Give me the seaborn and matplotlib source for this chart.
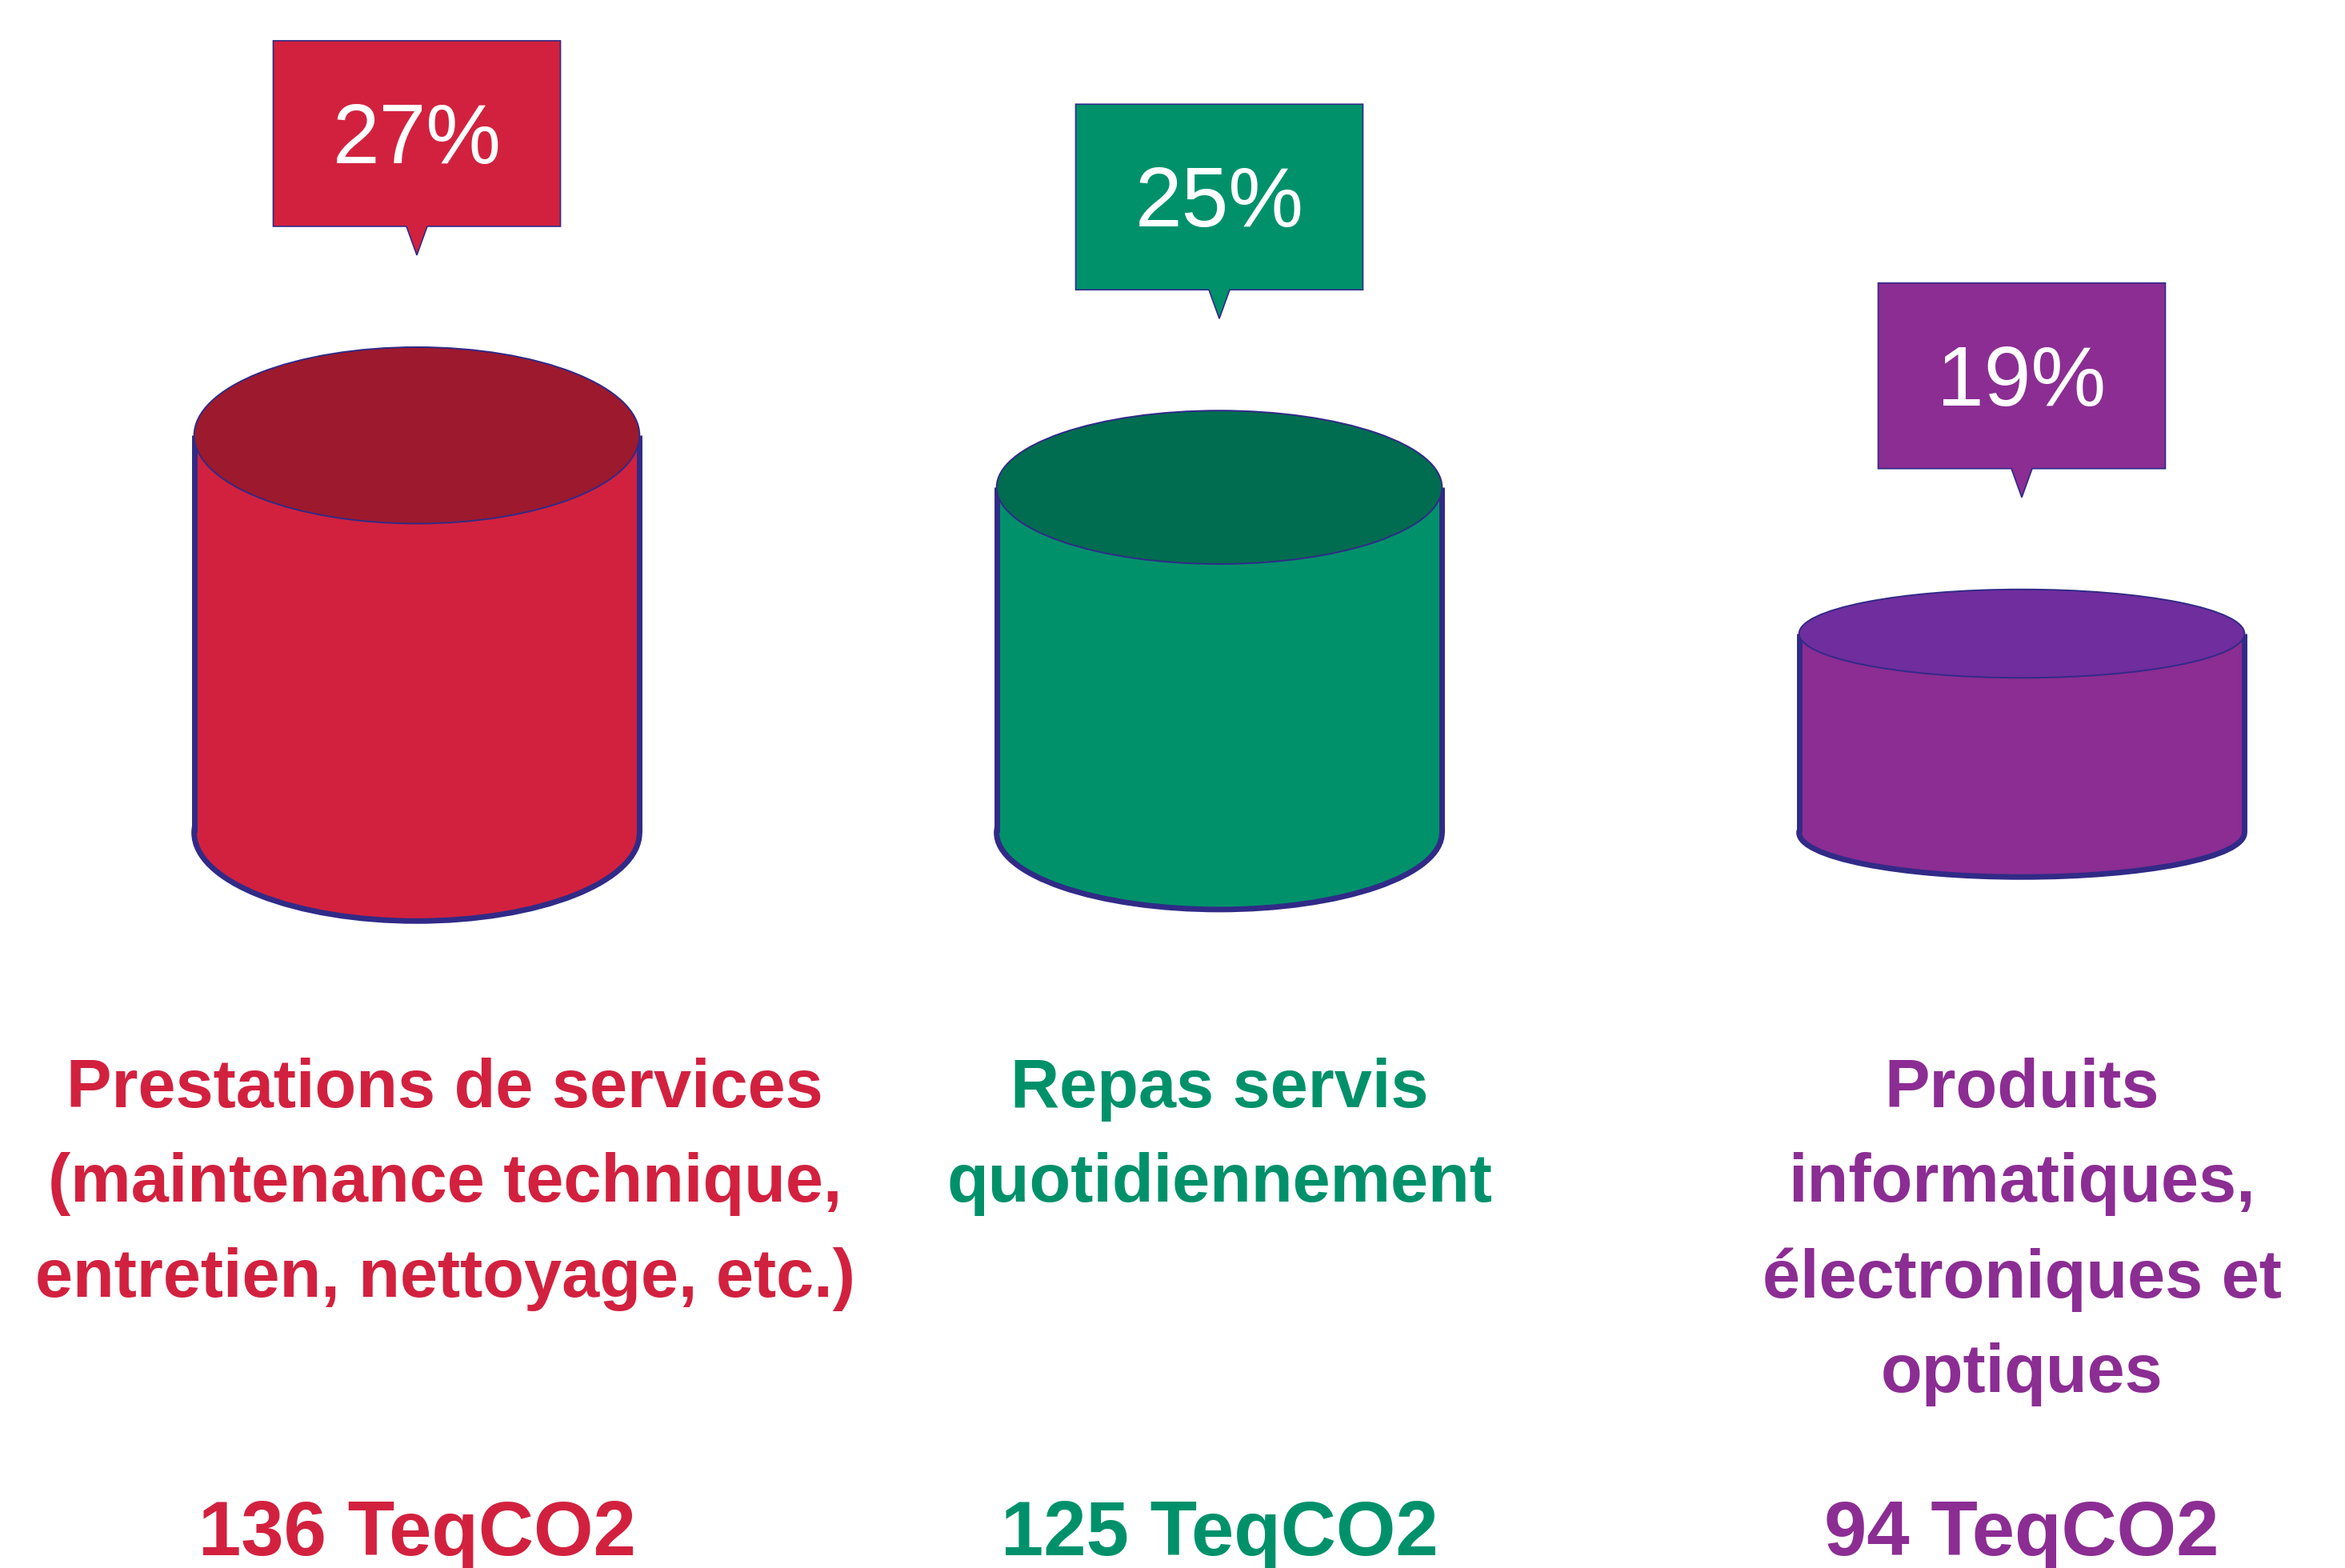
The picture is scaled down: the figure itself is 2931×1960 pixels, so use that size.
import pandas as pd
import seaborn as sns
import matplotlib.pyplot as plt
from matplotlib.patches import Ellipse, Polygon
from matplotlib import transforms

# data
categories = ["Prestations de services\n(maintenance technique,\nentretien, nettoyage, etc.)",
              "Repas servis\nquotidiennement",
              "Produits\ninformatiques,\nélectroniques et\noptiques"]
teq_values = [136, 125, 94]
percents = [27, 25, 19]

side_colors = ["#D2213E", "#00916B", "#8B2D93"]
top_colors = ["#9D192E", "#006C50", "#6F2D9D"]
edge_color = "#312A87"

sns.set_style("white")
plt.rcParams["font.family"] = ["Liberation Sans", "DejaVu Sans"]

W, H, DPI = 2931, 1960, 100
fig = plt.figure(figsize=(W / DPI, H / DPI), dpi=DPI)

# cylinders sit on a common baseline, the axes stop there
base_px = 1041
ax = fig.add_axes([0, 1 - base_px / H, 1, base_px / H])

df = pd.DataFrame({"cat": categories, "teq": teq_values})
sns.barplot(data=df, x="cat", y="teq", hue="cat", palette=side_colors,
            width=0.555, saturation=1, linewidth=0, legend=False, ax=ax)

y_lo = 51.8          # value at the baseline
px_per_unit = 5.9    # vertical pixels per TeqCO2
x_px = 1003          # pixels between two columns
ax.set_ylim(y_lo, y_lo + base_px / px_per_unit)
ax.set_xlim(-521 / x_px, (W - 521) / x_px)
ax.axis("off")

bars = list(ax.patches)
for i, bar in enumerate(bars):
    x0 = bar.get_x()
    w = bar.get_width()
    xc = x0 + w / 2
    top = bar.get_height()
    ry = 0.222 * (top - y_lo)
    bar.set_zorder(2)

    # bottom of the cylinder
    ax.add_patch(Ellipse((xc, y_lo), w, 2 * ry, fc=side_colors[i], ec=edge_color,
                         lw=5, zorder=1, clip_on=False))
    # sides
    for xs in (x0, x0 + w):
        ax.plot([xs, xs], [y_lo, top], color=edge_color, lw=5, zorder=3,
                solid_capstyle="butt")
    # lid
    ax.add_patch(Ellipse((xc, top), w, 2 * ry, fc=top_colors[i], ec=edge_color,
                         lw=1.4, zorder=4))

    # callout with the percentage
    gap = 115 / px_per_unit
    tip_h = 36 / px_per_unit
    box_h = 232 / px_per_unit
    box_w = 359 / x_px
    notch = 13 / x_px
    tip_y = top + ry + gap
    b = tip_y + tip_h
    verts = [(xc, tip_y), (xc + notch, b), (xc + box_w / 2, b), (xc + box_w / 2, b + box_h),
             (xc - box_w / 2, b + box_h), (xc - box_w / 2, b), (xc - notch, b)]
    ax.add_patch(Polygon(verts, closed=True, fc=side_colors[i], ec=edge_color,
                         lw=1.2, zorder=5, clip_on=False))
    ax.text(xc, b + box_h / 2 - 37 / px_per_unit, f"{percents[i]}%", color="white",
            fontsize=76, ha="center", va="baseline", zorder=6)

# labels under the cylinders
trans = transforms.blended_transform_factory(ax.transData, fig.transFigure)
label_dx = [0.035, 0, 0]
for i, bar in enumerate(bars):
    xc = bar.get_x() + bar.get_width() / 2
    ax.text(xc + label_dx[i], 1 - 1322 / H, categories[i], transform=trans,
            ha="center", va="top", fontsize=61, fontweight="bold",
            color=side_colors[i], linespacing=1.62, multialignment="center")
    ax.text(xc, 1 - 1944 / H, f"{teq_values[i]} TeqCO2", transform=trans,
            ha="center", va="baseline", fontsize=69, fontweight="bold",
            color=side_colors[i])

fig.savefig("out.png", dpi=DPI)
